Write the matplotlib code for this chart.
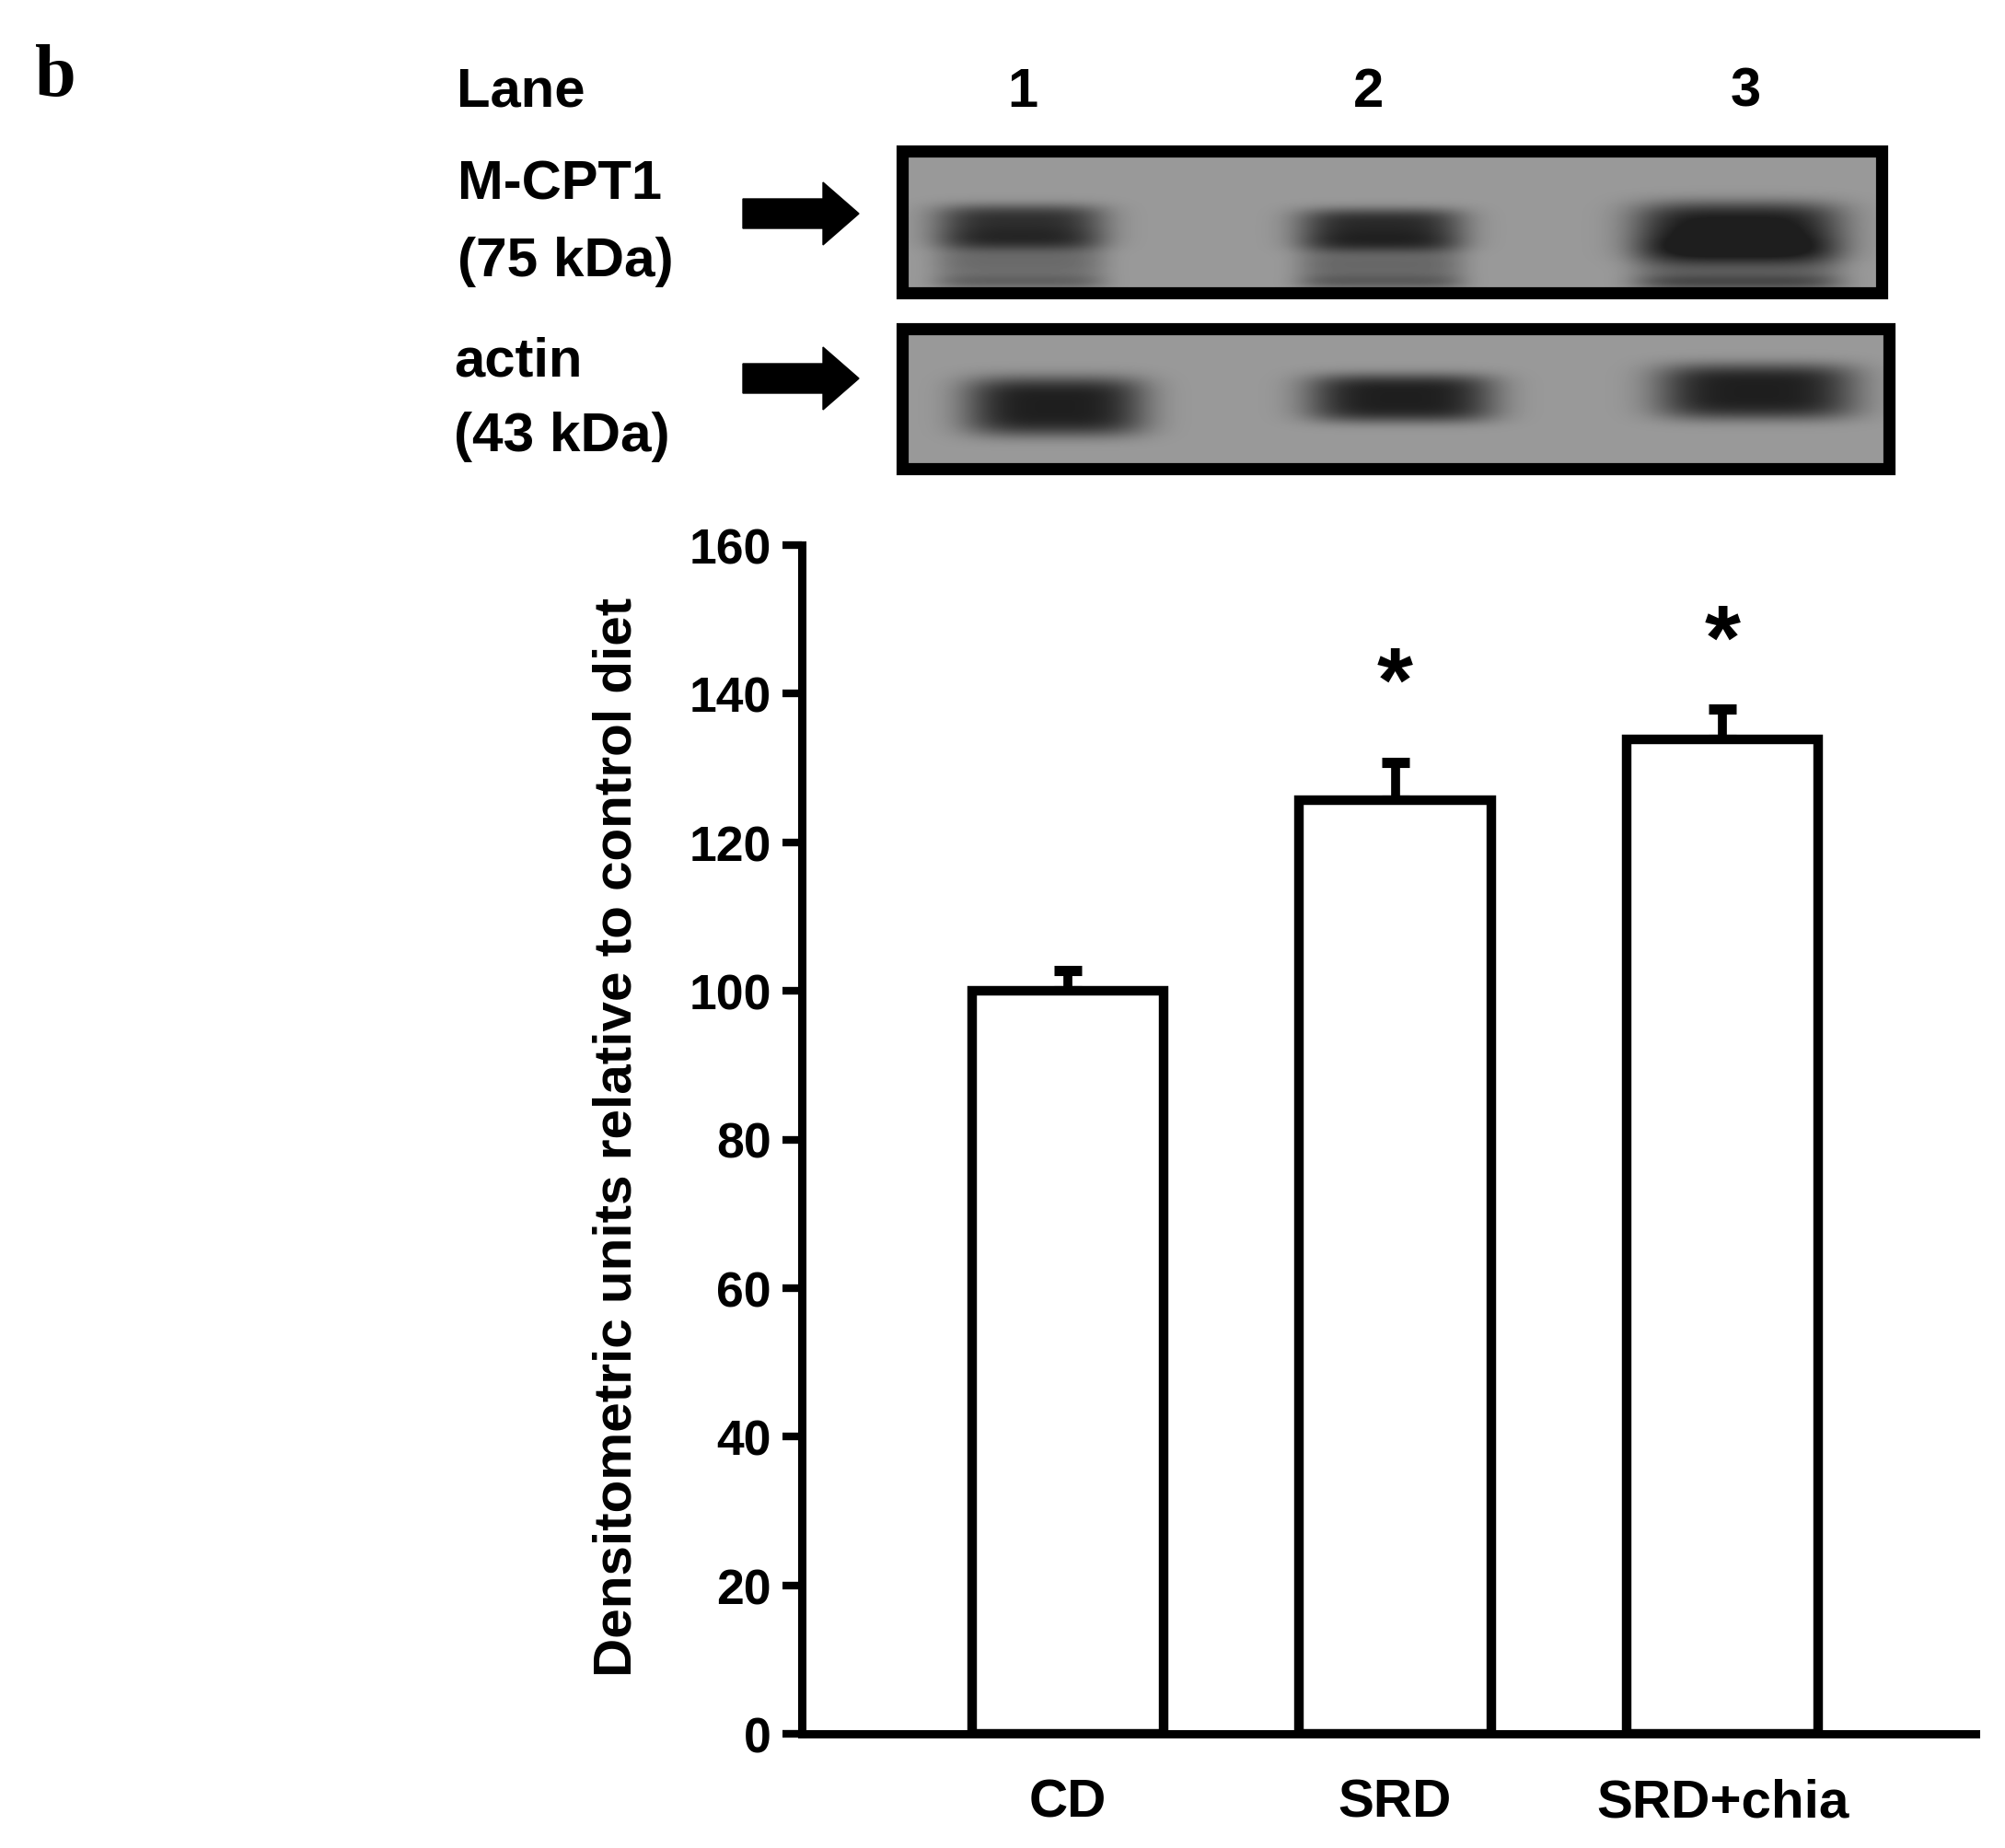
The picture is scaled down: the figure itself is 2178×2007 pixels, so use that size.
import numpy as np
import matplotlib
matplotlib.use("Agg")
import matplotlib.pyplot as plt
from matplotlib.patches import Rectangle, Polygon

plt.rcParams['font.family'] = ['Liberation Sans', 'DejaVu Sans']
plt.rcParams['font.weight'] = 'bold'

# données
groups = ["CD", "SRD", "SRD+chia"]
values = [100.0, 125.7, 133.8]
errors = [2.7, 5.0, 4.2]
stars = ["", "*", "*"]
star_y = [0, 141.0, 146.6]
yticks = [0, 20, 40, 60, 80, 100, 120, 140, 160]

lanes = ["1", "2", "3"]
mcpt1_band = [0.85, 0.9, 1.0]
actin_band = [1.0, 1.0, 1.0]

W, H = 2178, 2008
fig = plt.figure(figsize=(W / 100, H / 100), dpi=100)

# calque en pixels pour le blot et les textes
ov = fig.add_axes([0, 0, 1, 1])
ov.set_xlim(0, W)
ov.set_ylim(H, 0)
ov.axis("off")


def blot(x0, x1, y0, y1, bands, shape, smear):
    xs = np.arange(x0, x1)
    ys = np.arange(y0, y1)
    X, Y = np.meshgrid(xs, ys)
    dark = np.zeros_like(X, dtype=float)
    for k, (cx, cy, hw, hh) in enumerate(shape):
        a = bands[k]
        r = np.abs((X - cx) / hw) ** 4 + np.abs((Y - cy) / hh) ** 4
        dark += a * np.exp(-r)
        if smear:
            fx = np.exp(-np.abs((X - cx) / hw) ** 6)
            dark += 0.45 * a * fx * np.exp(-np.abs((Y - cy - 38) / (hh * 1.1)) ** 2)
            dark += 0.3 * a * fx * np.exp(-np.abs((Y - (y1 - 18)) / 8) ** 2)
    dark = np.clip(dark, 0, 1)
    img = 0.60 - 0.48 * dark
    ov.imshow(img, cmap="gray", vmin=0, vmax=1, extent=[x0, x1, y1, y0],
              aspect="auto", interpolation="bilinear", zorder=1)
    ov.add_patch(Rectangle((x0 + 6, y0 + 6), x1 - x0 - 12, y1 - y0 - 12,
                           fill=False, ec="black", lw=9.5, zorder=2))


blot(974, 2050, 159, 325, mcpt1_band,
     [(1108, 247, 92, 24), (1500, 250, 90, 23), (1888, 252, 112, 32)], True)
blot(974, 2058, 352, 516, actin_band,
     [(1146, 442, 98, 32), (1522, 433, 102, 26), (1908, 426, 108, 30)], False)


def arrow(yc):
    pts = [(807, yc - 16), (894, yc - 16), (894, yc - 34), (933, yc),
           (894, yc + 34), (894, yc + 16), (807, yc + 16)]
    ov.add_patch(Polygon(pts, closed=True, color="black", zorder=3))


arrow(233)
arrow(412)

ov.text(38, 104, "b", family=["Liberation Serif"], fontweight="bold",
        fontsize=58, va="baseline", ha="left")
ov.text(496, 100, "Lane", fontsize=43, va="center", ha="left")
for lx, lab in zip([1111, 1486, 1896], lanes):
    ov.text(lx, 100, lab, fontsize=43, va="center", ha="center")
ov.text(497, 201, "M-CPT1", fontsize=43, va="center", ha="left")
ov.text(497, 285, "(75 kDa)", fontsize=43.5, va="center", ha="left")
ov.text(493, 393, "actin", fontsize=43, va="center", ha="left")
ov.text(493, 475, "(43 kDa)", fontsize=43.5, va="center", ha="left")

# histogramme
ax = fig.add_axes([871 / W, 1 - 1884 / H, (2146 - 871) / W, (1884 - 593) / H])
x = np.arange(1, len(groups) + 1)
ax.bar(x, values, width=0.586, color="white", edgecolor="black", linewidth=7.5, zorder=2)
ax.errorbar(x, values, yerr=[[0] * len(errors), errors], fmt="none", ecolor="black",
            elinewidth=7, capsize=11, capthick=8, zorder=1)
for xi, s, sy in zip(x, stars, star_y):
    if s:
        ax.text(xi, sy, s, fontsize=72, ha="center", va="center")

ax.set_xlim(0.1875, 3.773)
ax.set_ylim(0, 160)
ax.set_yticks(yticks)
ax.set_xticks(x)
ax.set_xticklabels(groups)
ax.spines["top"].set_visible(False)
ax.spines["right"].set_visible(False)
ax.spines["left"].set_linewidth(6.5)
ax.spines["bottom"].set_linewidth(6.5)
ax.tick_params(axis="y", direction="out", length=15, width=6, labelsize=38.5, pad=9)
ax.tick_params(axis="x", length=0, labelsize=42, pad=34)
ax.set_ylabel("Densitometric units relative to control diet", fontsize=42, fontweight="bold")
ax.yaxis.set_label_coords(-0.136, 0.503)

fig.savefig("out.png", dpi=100)
